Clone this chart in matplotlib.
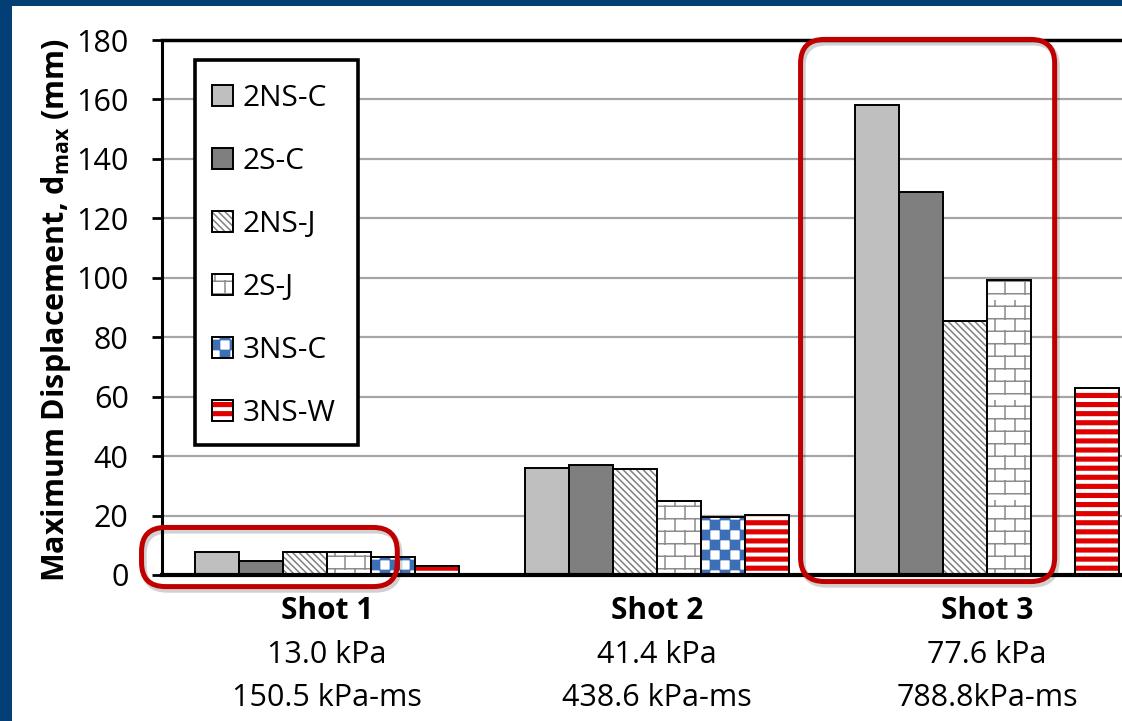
import warnings
import numpy as np
import matplotlib
matplotlib.use('Agg')
import matplotlib.pyplot as plt
import matplotlib.hatch as mhatch
from matplotlib.path import Path
from matplotlib.patches import Patch, Rectangle, FancyBboxPatch
from matplotlib.transforms import IdentityTransform

# custom hatch letters below are not in matplotlib's list, keep the log quiet
warnings.filterwarnings('ignore', category=matplotlib.MatplotlibDeprecationWarning)

shots = ['Shot 1', 'Shot 2', 'Shot 3']
pressure = ['13.0 kPa', '41.4 kPa', '77.6 kPa']
impulse = ['150.5 kPa-ms', '438.6 kPa-ms', '788.8kPa-ms']

series = ['2NS-C', '2S-C', '2NS-J', '2S-J', '3NS-C', '3NS-W']
d_2ns_c = [7.7, 36.0, 158.0]
d_2s_c = [4.6, 37.1, 129.0]
d_2ns_j = [7.7, 35.7, 85.5]
d_2s_j = [7.6, 24.8, 99.3]
d_3ns_c = [5.9, 19.5, np.nan]   # no 3NS-C result for shot 3
d_3ns_w = [2.9, 20.2, 62.9]
values = [d_2ns_c, d_2s_c, d_2ns_j, d_2s_j, d_3ns_c, d_3ns_w]

# (face, hatch, hatch colour)
styles = [
    ('#bfbfbf', None, 'black'),
    ('#7f7f7f', None, 'black'),
    ('white', '\\\\\\\\\\', '#808080'),
    ('white', 'b', '#8c8c8c'),
    ('white', 'c', '#3d6fb6'),
    ('white', 's', '#e00000'),
]


class BrickHatch(mhatch.HatchPatternBase):
    rows, cols = 8, 5

    def __init__(self, hatch, density):
        self.num_vertices = 2 * self.rows * (self.cols + 1) if 'b' in hatch else 0

    def set_vertices_and_codes(self, vertices, codes):
        v = []
        for i in range(self.rows):
            y0 = (i + 0.5) / self.rows
            y1 = (i + 1.5) / self.rows
            v += [(0, y0), (1, y0)]
            off = 0.5 if i % 2 else 0.0
            for j in range(self.cols):
                xx = (j + 0.25 + off) / self.cols
                v += [(xx, y0), (xx, min(y1, 1.0))]
        vertices[:] = v
        codes[0::2] = Path.MOVETO
        codes[1::2] = Path.LINETO


class CheckerHatch(mhatch.HatchPatternBase):
    n = 10

    def __init__(self, hatch, density):
        self.num_vertices = 5 * (self.n * self.n // 2) if 'c' in hatch else 0

    def set_vertices_and_codes(self, vertices, codes):
        v, c = [], []
        s = 1.0 / self.n
        e = 0.004
        for i in range(self.n):
            for j in range(self.n):
                if (i + j) % 2:
                    continue
                x0, y0 = j * s + e, i * s + e
                v += [(x0, y0), (x0 + s - 2 * e, y0), (x0 + s - 2 * e, y0 + s - 2 * e),
                      (x0, y0 + s - 2 * e), (x0, y0)]
                c += [Path.MOVETO, Path.LINETO, Path.LINETO, Path.LINETO, Path.CLOSEPOLY]
        vertices[:] = v
        codes[:] = c


class StripeHatch(mhatch.HatchPatternBase):
    n = 11
    t = 0.036

    def __init__(self, hatch, density):
        self.num_vertices = 5 * self.n if 's' in hatch else 0

    def set_vertices_and_codes(self, vertices, codes):
        v, c = [], []
        for i in range(self.n):
            y0 = (i + 0.3) / self.n
            v += [(0, y0), (1, y0), (1, y0 + self.t), (0, y0 + self.t), (0, y0)]
            c += [Path.MOVETO, Path.LINETO, Path.LINETO, Path.LINETO, Path.CLOSEPOLY]
        vertices[:] = v
        codes[:] = c


mhatch._hatch_types += [BrickHatch, CheckerHatch, StripeHatch]

plt.rcParams['font.family'] = ['Open Sans', 'DejaVu Sans']
plt.rcParams['mathtext.default'] = 'regular'
plt.rcParams['hatch.linewidth'] = 1.1

W, H = 1122, 721
fig = plt.figure(figsize=(W / 100, H / 100), dpi=100, facecolor='#023f75')
fig.add_artist(Rectangle((12 / W, 0), 1, 715 / H, transform=fig.transFigure,
                         facecolor='white', edgecolor='none', zorder=-10))

# plot area runs off the right edge
ax = fig.add_axes([162 / W, 146 / H, 990 / W, 535 / H])
ax.set_facecolor('none')

x = np.arange(len(shots))
w = 0.8 / len(series)
handles = []
for k, (vals, (fc, hatch, hc)) in enumerate(zip(values, styles)):
    pos = x + (k - 2.5) * w
    ax.bar(pos, vals, w, color=fc, hatch=hatch, edgecolor=hc, linewidth=0, zorder=2)
    ax.bar(pos, vals, w, color='none', edgecolor='black', linewidth=1.4, zorder=3)
    handles.append((Patch(facecolor=fc, hatch=hatch, edgecolor=hc, linewidth=0),
                    Patch(facecolor='none', edgecolor='black', linewidth=1.4)))

ax.set_xlim(-0.5, 2.5)
ax.set_ylim(0, 180)
ax.set_yticks(np.arange(0, 181, 20))
ax.set_xticks([])
ax.tick_params(axis='y', direction='out', length=7, width=2, pad=17, labelsize=22)
ax.yaxis.grid(True, color='#a6a6a6', linewidth=1.6, zorder=0)
ax.set_axisbelow(True)
ax.spines['left'].set_linewidth(2.2)
ax.spines['bottom'].set_linewidth(3)
ax.spines['top'].set_linewidth(2.5)
ax.spines['right'].set_visible(False)

xt = ax.get_xaxis_transform()
for i in range(len(shots)):
    ax.annotate(shots[i], xy=(x[i], 0), xycoords=xt, xytext=(0, -44),
                textcoords='offset pixels', ha='center', va='baseline',
                fontsize=21.5, fontweight='bold')
    ax.annotate(pressure[i], xy=(x[i], 0), xycoords=xt, xytext=(0, -88),
                textcoords='offset pixels', ha='center', va='baseline', fontsize=22)
    ax.annotate(impulse[i], xy=(x[i], 0), xycoords=xt, xytext=(0, -131),
                textcoords='offset pixels', ha='center', va='baseline', fontsize=22)

fig.text(56 / W, 1 - 310 / H, r'Maximum Displacement, d$_{max}$ (mm)', rotation=90,
         ha='center', va='center', fontsize=22, fontweight='bold')

# legend box is a plain white frame, entries placed inside it
ax.add_patch(Rectangle((195 / W, 1 - 445 / H), 163 / W, 385 / H, transform=fig.transFigure,
                       facecolor='white', edgecolor='black', linewidth=2.6,
                       clip_on=False, zorder=9))
leg = ax.legend(handles, series, loc='upper left', bbox_to_anchor=(212 / W, 1 - 84 / H),
                bbox_transform=fig.transFigure, borderaxespad=0, borderpad=0,
                fontsize=21.5, handlelength=0.7, handleheight=0.7, handletextpad=0.33,
                labelspacing=1.14, frameon=False)
leg.set_zorder(10)

# rounded call-out frames around shot 1 and the shot 3 two-storey bars
frames = [(0, -0.562, 0.213, -3.9, 16.0), (2, -0.565, 0.205, -2.2, 180.2)]
for grp, dx0, dx1, y0, y1 in frames:
    p0 = ax.transData.transform((x[grp] + dx0, y0))
    p1 = ax.transData.transform((x[grp] + dx1, y1))
    for off, col, lw, z in [((2, -3), (0, 0, 0, 0.18), 4.5, 19), ((0, 0), '#c00000', 3.6, 20)]:
        fig.add_artist(FancyBboxPatch((p0[0] + off[0], p0[1] + off[1]),
                                      p1[0] - p0[0], p1[1] - p0[1],
                                      boxstyle='round,pad=0,rounding_size=24',
                                      transform=IdentityTransform(), facecolor='none',
                                      edgecolor=col, linewidth=lw, zorder=z))

fig.savefig('out.png', dpi=100)
